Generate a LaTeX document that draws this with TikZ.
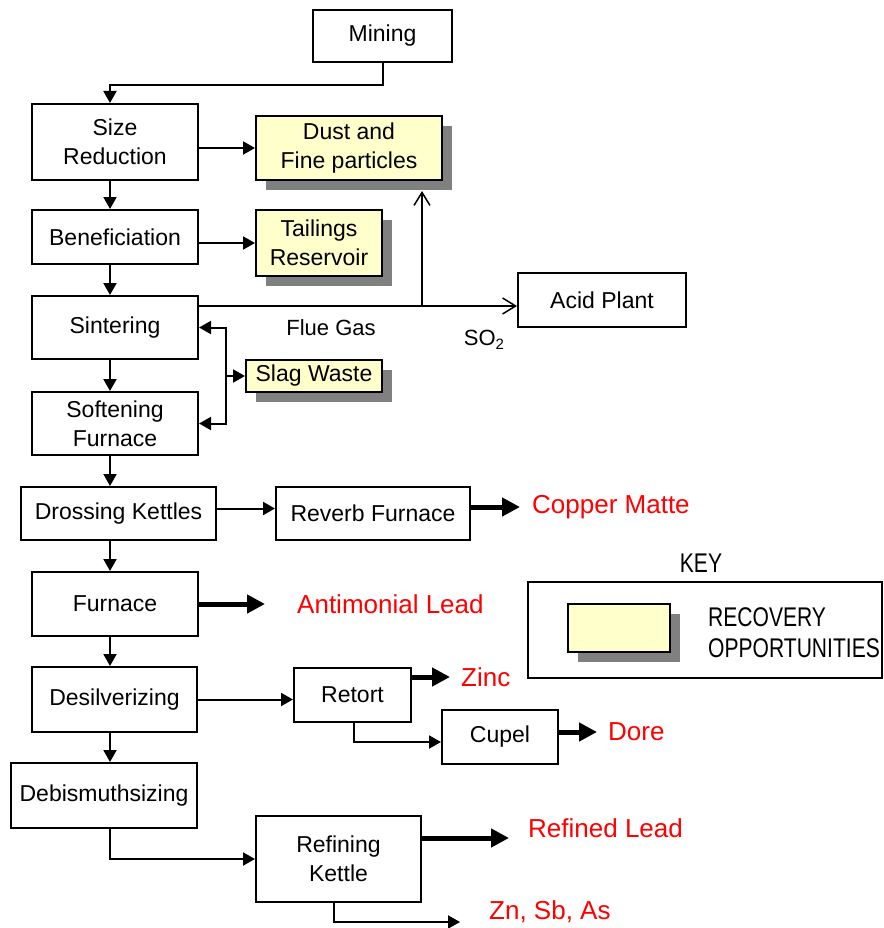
\documentclass[tikz,border=0pt]{standalone}
\usepackage{fontspec}
\setmainfont{Liberation Sans}
\newfontfamily\keyff[FakeStretch=0.78]{Liberation Sans}
\usetikzlibrary{arrows.meta,shadows,calc}
\definecolor{recfill}{HTML}{FFFFCC}
\definecolor{shgray}{HTML}{808080}
\definecolor{outred}{HTML}{FF0000}
\newcommand{\boxfont}{\fontsize{23}{29}\selectfont}
\newcommand{\outfont}{\fontsize{26}{30}\selectfont}
\newcommand{\keyfont}{\keyff\fontsize{27}{31}\selectfont}
\begin{document}
\begin{tikzpicture}[x=1pt,y=-1pt,
  proc/.style={draw, line width=2pt, fill=white, align=center, font=\boxfont, inner sep=0pt},
  rec/.style={proc, fill=recfill, drop shadow={shadow xshift=10pt, shadow yshift=-10pt, fill=shgray, opacity=1}},
  wh/.style 2 args={minimum width=#1pt, minimum height=#2pt},
  arr/.style={line width=2pt, -{Triangle[length=12pt,width=13pt]}},
  bigarr/.style={line width=5pt, -{Triangle[length=18pt,width=18pt]}},
  barb/.style={line width=1.5pt, -{Straight Barb[length=13pt,width=16pt,line width=1.5pt]}},
  outtxt/.style={text=outred, font=\outfont, anchor=west, inner sep=0pt},
  lbl/.style={font=\fontsize{22}{26}\selectfont, inner sep=0pt}
]
\useasboundingbox (0,0) rectangle (883,928);
\coordinate (spine) at (110,0);
% process boxes
\node[proc, wh={139}{52}] (mining) at (382.5,36) {Mining};
\node[proc, wh={166}{76}] (sizered) at (115,142) {Size\\Reduction};
\node[rec, wh={186}{64}] (dust) at (349,148) {Dust and\\Fine particles};
\node[proc, wh={166}{54}] (benef) at (115,237) {Beneficiation};
\node[rec, wh={126}{66}] (tail) at (319,243) {Tailings\\Reservoir};
\node[proc, wh={166}{63}] (sinter) at (115,327.5) {Sintering};
\node[proc, wh={168}{54}] (acid) at (602,300) {Acid Plant};
\node[rec, wh={136}{32}] (slag) at (314,376) {Slag Waste};
\node[proc, wh={166}{63}] (soft) at (115,423.5) {Softening\\Furnace};
\node[proc, wh={195}{53}] (dross) at (118.5,513.5) {Drossing Kettles};
\node[proc, wh={194}{53}] (reverb) at (373,513.5) {Reverb Furnace};
\node[proc, wh={166}{64}] (furn) at (115,604) {Furnace};
\node[proc, wh={165}{65}] (desilv) at (114.5,699.5) {Desilverizing};
\node[proc, wh={117}{54}] (retort) at (352.5,695) {Retort};
\node[proc, wh={116}{54}] (cupel) at (500,737) {Cupel};
\node[proc, wh={186}{65}] (debis) at (104,795.5) {Debismuthsizing};
\node[proc, wh={165}{86}] (refin) at (338.5,859) {Refining\\Kettle};
% labels
\node[lbl] (flue) at (331,328) {Flue Gas};
\node[lbl] (so2) at (484,340) {SO\raisebox{-0.35ex}{\fontsize{15}{15}\selectfont 2}};
% outputs
\node[outtxt] (cm) at (532,507) {Copper Matte};
\node[outtxt] (al) at (297,604) {Antimonial Lead};
\node[outtxt] (zinc) at (461,677) {Zinc};
\node[outtxt] (dore) at (608,732) {Dore};
\node[outtxt] (rl) at (528,828) {Refined Lead};
\node[outtxt] (zn) at (489,912) {Zn, Sb, As};
% key
\node[font=\keyfont, inner sep=0pt] (keyt) at (701,563) {KEY};
\node[draw, line width=2pt, wh={354}{96}] (keybox) at (705,630) {};
\node[rec, wh={102}{48}] (swatch) at (619,628) {};
\node[font=\keyfont, align=left, anchor=west, inner sep=0pt] (keytxt) at (708,632.5) {RECOVERY\\OPPORTUNITIES};
% connectors
\draw[arr] (mining.south) -- ++(0,22) -| (sizered.north -| spine);
\draw[arr] (sizered.east |- dust.west) -- (dust.west);
\draw[arr] (sizered.south -| spine) -- (benef.north -| spine);
\draw[arr] (benef.east |- tail.west) -- (tail.west);
\draw[arr] (benef.south -| spine) -- (sinter.north -| spine);
\coordinate (fluey) at (0,306);
\coordinate (fj) at (422,306);
\draw[barb] (sinter.east |- fluey) -- (acid.west |- fluey);
\draw[barb] (fj) -- ($(fj |- dust.south)+(0,10)$);
\coordinate (fb) at (226,376);
\draw[arr] (fb) |- (sinter.east);
\draw[arr] (fb) |- (soft.east);
\draw[arr] (fb) -- (slag.west);
\draw[arr] (sinter.south -| spine) -- (soft.north -| spine);
\draw[arr] (soft.south -| spine) -- (dross.north -| spine);
\draw[arr] ([yshift=5pt]dross.east) -- ([yshift=5pt]reverb.west);
\draw[bigarr, shorten >=12pt] (reverb.east |- cm.west) -- (cm.west);
\draw[arr] (dross.south -| spine) -- (furn.north -| spine);
\draw[bigarr, shorten >=32pt] (furn.east) -- (furn.east -| al.west);
\draw[arr] (furn.south -| spine) -- (desilv.north -| spine);
\draw[arr] (desilv.east) -- (desilv.east -| retort.west);
\draw[bigarr, shorten >=11pt] (retort.east |- zinc.west) -- (zinc.west);
\draw[arr] ([xshift=1.5pt]retort.south) |- ([yshift=-5pt]cupel.west);
\draw[bigarr, shorten >=11pt] (cupel.east |- dore.west) -- (dore.west);
\draw[arr] (desilv.south -| spine) -- (debis.north -| spine);
\draw[arr] (debis.south -| spine) |- (refin.west);
\draw[bigarr, shorten >=19pt] ([yshift=21pt]refin.east) -- ([yshift=21pt]refin.east -| rl.west);
\coordinate (znend) at (460,922);
\draw[arr] ([xshift=-4.5pt]refin.south) |- (znend);
\end{tikzpicture}
\end{document}
